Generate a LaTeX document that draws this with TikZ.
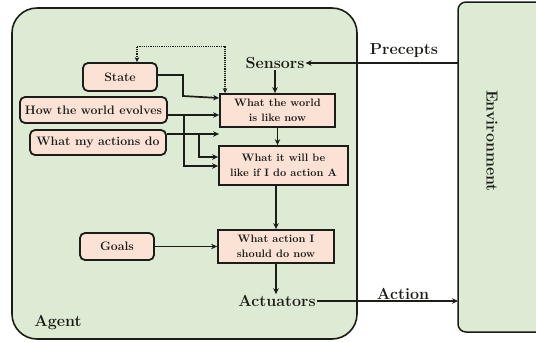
\documentclass[tikz,border=0pt]{standalone}
\usetikzlibrary{arrows.meta}
\definecolor{agentbg}{RGB}{221,234,212}
\definecolor{boxbg}{RGB}{251,226,213}
\definecolor{ink}{RGB}{28,28,24}
\tikzset{
  arr/.style={-{Stealth[length=6pt,width=5.5pt]}, line width=1.7pt, draw=ink},
  infobox/.style={rectangle, rounded corners=5pt, draw=ink, line width=1.8pt, fill=boxbg,
    inner sep=0pt, font=\bfseries\fontsize{12.3}{13}\selectfont, text=ink},
  procbox/.style={rectangle, draw=ink, line width=1.8pt, fill=boxbg, inner sep=0pt,
    align=center, font=\bfseries\fontsize{10.8}{15.5}\selectfont, text=ink},
  label/.style={inner sep=1pt, font=\bfseries\fontsize{16}{18}\selectfont, text=ink},
}
\begin{document}
\begin{tikzpicture}[x=1pt,y=-1pt]
\clip (0,0) rectangle (536,341);
\useasboundingbox (0,0) rectangle (536,341);
\fill[white] (0,0) rectangle (536,341);

% agent and environment frames
\draw[ink, line width=1.6pt, fill=agentbg, rounded corners=25pt] (12,8) rectangle (357,339);
\draw[ink, line width=1.5pt, fill=agentbg, rounded corners=8pt] (458,2) rectangle (548,332);
\node[coordinate] (envw) at (458,160) {};
\node[label, rotate=-90] (env) at (492,141) {Environment};

% labels
\node[label] (sensors) at (275,63) {Sensors};
\node[label] (actuators) at (277,301) {Actuators};
\node[label] (precepts) at (404,51) {Precepts};
\node[label] (action) at (403,294) {Action};
\node[label] (agent) at (58,323) {Agent};

% knowledge boxes
\node[infobox, minimum width=74pt, minimum height=28pt] (state) at (120,77) {State};
\node[infobox, minimum width=147pt, minimum height=26pt] (evolves) at (93.5,110) {How the world evolves};
\node[infobox, minimum width=136pt, minimum height=25pt] (actions) at (98,142.5) {What my actions do};
\node[infobox, minimum width=74pt, minimum height=27pt] (goals) at (117,246.5) {Goals};

% reasoning boxes
\node[procbox, minimum width=115pt, minimum height=33pt] (world) at (277.5,110.5) {What the world\\is like now};
\node[procbox, minimum width=129pt, minimum height=39pt] (predict) at (283.5,165.5) {What it will be\\like if I do action A};
\node[procbox, minimum width=116pt, minimum height=33pt] (decide) at (276,246.5) {What action I\\should do now};

% main flow
\draw[arr] (sensors.south) -- (sensors.south |- world.north);
\draw[arr] (world.south) -- (world.south |- predict.north);
\draw[arr] (decide.north |- predict.south) -- (decide.north);
\draw[arr] (decide.south) -- (decide.south |- actuators.north);
\draw[arr] (envw |- sensors.east) -- (sensors.east);
\draw[arr] (actuators.east) -- (actuators.east -| envw);
\draw[arr] (goals.east) -- (goals.east -| decide.west);

% inputs to the world model and the prediction
\draw[arr] ([yshift=2pt]state.east) -| ++(25,21) -- ([yshift=12.5pt]world.west);
\draw[arr] ([yshift=-5pt]evolves.east) -- ([yshift=-4.5pt]world.west);
\draw[arr] ([yshift=-5pt]evolves.east) ++(16,0) |- ([yshift=-0.5pt]predict.west);
\draw[arr] ([yshift=8.5pt]actions.east) -- (world.west |- 0,134);
\draw[arr] ([yshift=8.5pt]actions.east) ++(32,0) |- ([yshift=8.5pt]predict.west);

% state feedback
\draw[{Stealth[length=5pt,width=4.5pt]}-{Stealth[length=5pt,width=4.5pt]}, densely dotted, line width=1.2pt, draw=ink]
  ([xshift=17pt]state.north) -- ++(0,-16) -| ([xshift=-52.5pt]world.north);
\end{tikzpicture}
\end{document}
